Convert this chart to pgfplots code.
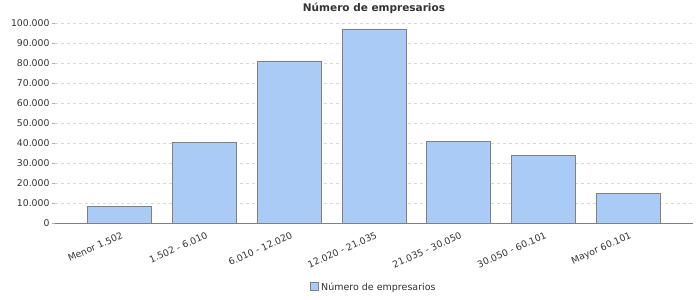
\documentclass[border=0pt]{standalone}
\usepackage{pgfplots}
\pgfplotsset{compat=1.18}
\usepackage{fontspec}
\setmainfont{DejaVu Sans}
\definecolor{barfill}{HTML}{A9CBF5}
\definecolor{bardraw}{HTML}{808080}
\definecolor{gridc}{HTML}{D8D8D8}
\definecolor{txt}{HTML}{333333}
\begin{document}
\begin{tikzpicture}
\useasboundingbox (-55bp,-77bp) rectangle (645bp,223bp);
\begin{axis}[
  at={(0,0)}, anchor=south west,
  scale only axis,
  width=638bp, height=200bp,
  ymin=0, ymax=100000,
  xmin=-0.765, xmax=6.765,
  ytick={0,10000,...,100000},
  /pgf/number format/fixed,
  /pgf/number format/1000 sep={.},
  /pgf/number format/assume math mode=true,
  yticklabel style={font=\fontsize{9.3bp}{10bp}\selectfont, text=txt, xshift=1bp},
  scaled y ticks=false,
  xtick={0,...,6},
  xticklabels={Menor 1.502, 1.502 - 6.010, 6.010 - 12.020, 12.020 - 21.035, 21.035 - 30.050, 30.050 - 60.101, Mayor 60.101},
  xticklabel style={rotate=24, anchor=north east, font=\fontsize{9.3bp}{10bp}\selectfont, text=txt, xshift=2bp, yshift=-2bp},
  x tick style={draw=none},
  y tick style={draw=gridc!80!black},
  major tick length=3bp,
  tick align=outside,
  axis x line*=bottom,
  axis y line*=left,
  y axis line style={draw=none},
  x axis line style={bardraw, line width=0.8bp},
  ymajorgrids,
  grid style={gridc, dashed, line width=0.5bp},
  ybar, bar width=64bp,
  title={\bfseries Número de empresarios},
  title style={font=\fontsize{10.5bp}{12bp}\selectfont, text=txt, at={(0.5,1)}, anchor=center, yshift=8.5bp},
  legend style={at={(0.5,-0.32)}, anchor=center, draw=none, font=\fontsize{9.5bp}{10bp}\selectfont, text=txt, legend cell align=left, inner sep=0pt},
  legend image code/.code={\draw[draw=bardraw, fill=barfill] (2bp,-3.5bp) rectangle (10bp,4.5bp);},
]
\addplot[fill=barfill, draw=bardraw, line width=0.8bp] coordinates {
(0,8500) (1,40300) (2,81000) (3,97000) (4,41000) (5,34000) (6,15000)};
\addlegendentry{Número de empresarios}
\end{axis}
\end{tikzpicture}
\end{document}
